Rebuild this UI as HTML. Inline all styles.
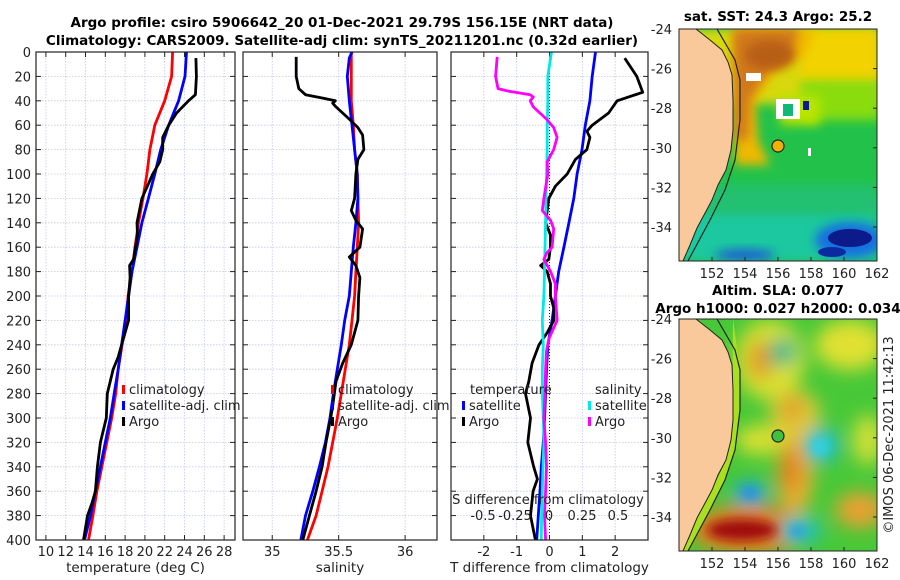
<!DOCTYPE html>
<html><head><meta charset="utf-8"><style>
html,body{margin:0;padding:0;background:#fff;}
svg{display:block;font-family:"DejaVu Sans","Liberation Sans",sans-serif;}
</style></head><body>
<svg id="fig" width="900" height="580" viewBox="0 0 900 580" xmlns="http://www.w3.org/2000/svg">
<defs>
<clipPath id="m1c"><rect x="679" y="29" width="198" height="232"/></clipPath>
<clipPath id="m2c"><rect x="679" y="319" width="198" height="232"/></clipPath>
<filter id="bl" x="-50%" y="-50%" width="200%" height="200%"><feGaussianBlur stdDeviation="9"/></filter>
<filter id="bl2" x="-50%" y="-50%" width="200%" height="200%"><feGaussianBlur stdDeviation="5"/></filter>
</defs>
<text x="342" y="27" font-size="13.5" font-weight="bold" text-anchor="middle">Argo profile: csiro 5906642_20 01-Dec-2021 29.79S 156.15E (NRT data)</text>
<text x="342" y="45" font-size="13.5" font-weight="bold" text-anchor="middle">Climatology: CARS2009. Satellite-adj clim: synTS_20211201.nc (0.32d earlier)</text>
<g id="p1"></g>
<g id="p2"></g>
<g id="p3"></g>

<!-- SST map -->
<g>
<text x="778" y="21" font-size="13.5" font-weight="bold" text-anchor="middle">sat. SST: 24.3 Argo: 25.2</text>
<g clip-path="url(#m1c)">
<rect x="679" y="29" width="198" height="232" fill="#22c24a"/>
<rect x="679" y="29" width="198" height="75" fill="#d8d810" filter="url(#bl2)"/>
<rect x="800" y="29" width="80" height="55" fill="#f2d200" filter="url(#bl2)"/>
<rect x="800" y="80" width="80" height="40" fill="#8adc10" filter="url(#bl2)"/>
<rect x="780" y="95" width="40" height="30" fill="#b8e400" filter="url(#bl2)"/>
<path d="M730,29 L815,29 L805,55 L775,72 L755,100 L758,140 L770,165 L735,165 L733,29 Z" fill="#f0b800" filter="url(#bl2)"/>
<path d="M733,29 L800,29 L790,55 L768,72 L750,100 L748,140 L735,140 Z" fill="#d0781c" filter="url(#bl2)"/>
<ellipse cx="770" cy="55" rx="25" ry="15" fill="#b85e12" filter="url(#bl2)"/>
<rect x="679" y="200" width="198" height="61" fill="#1ec8a0" filter="url(#bl2)"/>
<rect x="679" y="185" width="198" height="30" fill="#20c070" filter="url(#bl2)"/>
<ellipse cx="850" cy="240" rx="35" ry="18" fill="#1870e0" filter="url(#bl2)"/>
<ellipse cx="850" cy="238" rx="22" ry="9" fill="#0c1a8a"/>
<ellipse cx="832" cy="252" rx="14" ry="5" fill="#0c2aa0"/>
<ellipse cx="745" cy="255" rx="30" ry="6" fill="#1a60d0" filter="url(#bl2)"/>
<rect x="776" y="99" width="24" height="20" fill="#ffffff"/>
<rect x="783" y="104" width="10" height="12" fill="#10b878"/>
<rect x="803" y="101" width="6" height="9" fill="#0c1a8a"/>
<rect x="808" y="148" width="3" height="8" fill="#ffffff"/>
<rect x="746" y="73" width="15" height="8" fill="#ffffff"/>
<path id="land1" d="M679,29 L696,29 L710,40 L722,50 L728,62 L732,75 L733,100 L733,130 L731,150 L726,170 L718,185 L712,200 L704,215 L697,228 L690,245 L683,261 L679,261 Z" fill="#fac99b" stroke="#222" stroke-width="1"/>
<path d="M717,29 L735,60 L740,80 L740,120 L735,160 L725,190 L710,220 L688,261" fill="none" stroke="#222" stroke-width="1.2"/>
</g>
<rect x="679" y="29" width="198" height="232" fill="none" stroke="#222" stroke-width="1"/>
<circle cx="778" cy="146" r="6" fill="#f0b000" stroke="#222" stroke-width="1.2"/>
<g id="m1ax"></g>
</g>

<!-- SLA map -->
<g>
<text x="778" y="295" font-size="13.5" font-weight="bold" text-anchor="middle">Altim. SLA: 0.077</text>
<text x="778" y="313" font-size="13.5" font-weight="bold" text-anchor="middle">Argo h1000: 0.027 h2000: 0.034</text>
<g clip-path="url(#m2c)">
<rect x="679" y="319" width="198" height="232" fill="#48c838"/>
<g filter="url(#bl)">
<ellipse cx="850" cy="345" rx="35" ry="25" fill="#e0e030"/>
<ellipse cx="770" cy="360" rx="35" ry="40" fill="#d8e030"/>
<ellipse cx="760" cy="360" rx="12" ry="20" fill="#e09a28"/>
<ellipse cx="795" cy="415" rx="25" ry="25" fill="#e0c838"/>
<ellipse cx="792" cy="408" rx="10" ry="12" fill="#e09a28"/>
<ellipse cx="760" cy="440" rx="25" ry="15" fill="#d8e030"/>
<ellipse cx="795" cy="475" rx="18" ry="40" fill="#e8b030"/>
<ellipse cx="790" cy="470" rx="10" ry="22" fill="#e08020"/>
<ellipse cx="750" cy="530" rx="60" ry="25" fill="#e08020"/>
<ellipse cx="860" cy="510" rx="25" ry="18" fill="#e8a030"/>
<ellipse cx="868" cy="440" rx="15" ry="25" fill="#d0e038"/>
<ellipse cx="783" cy="352" rx="14" ry="14" fill="#20b890"/>
<ellipse cx="822" cy="445" rx="18" ry="18" fill="#20c0c0"/>
<ellipse cx="750" cy="493" rx="18" ry="12" fill="#20a8d0"/>
<ellipse cx="800" cy="530" rx="22" ry="14" fill="#20c0c0"/>
</g>
<ellipse cx="820" cy="447" rx="10" ry="9" fill="#30d0e0" filter="url(#bl2)"/>
<ellipse cx="750" cy="493" rx="9" ry="6" fill="#2090e0" filter="url(#bl2)"/>
<ellipse cx="797" cy="531" rx="8" ry="6" fill="#2aa0e0" filter="url(#bl2)"/>
<ellipse cx="742" cy="530" rx="35" ry="11" fill="#a01010" filter="url(#bl2)"/>
<g transform="translate(0,290)">
<path d="M733,29 L740,80 L740,120 L735,160 L725,190 L710,220 L688,261 L683,261 L697,228 L712,200 L726,170 L733,130 Z" fill="#a8e020"/>
<path d="M679,29 L696,29 L710,40 L722,50 L728,62 L732,75 L733,100 L733,130 L731,150 L726,170 L718,185 L712,200 L704,215 L697,228 L690,245 L683,261 L679,261 Z" fill="#fac99b" stroke="#222" stroke-width="1"/>
<path d="M717,29 L735,60 L740,80 L740,120 L735,160 L725,190 L710,220 L688,261" fill="none" stroke="#222" stroke-width="1.2"/>
</g>
</g>
<rect x="679" y="319" width="198" height="232" fill="none" stroke="#222" stroke-width="1"/>
<circle cx="778" cy="436" r="6" fill="#40c040" stroke="#222" stroke-width="1.2"/>
<g id="m2ax"></g>
</g>
<text transform="translate(893,435) rotate(-90)" font-size="13" text-anchor="middle" fill="#222">©IMOS 06-Dec-2021 11:42:13</text>
</svg>
<script>
// ---------- data ----------
const depthTicks = [0,20,40,60,80,100,120,140,160,180,200,220,240,260,280,300,320,340,360,380,400];
const tempTicks = [10,12,14,16,18,20,22,24,26,28];
const salTicks = [35,35.5,36];
const tdiffTicks = [-2,-1,0,1,2];
const sdiffTickLabels = ["-0.5","-0.25","0","0.25","0.5"];
const sdiffTickVals = [-0.5,-0.25,0,0.25,0.5];

const tClimDepth = [0,20,40,60,80,100,120,140,160,180,200,220,240,260,280,300,320,340,360,380,400];
const tClimVals = [22.8,22.7,22.0,21.0,20.5,20.2,19.8,19.35,19.0,18.7,18.3,18.1,17.7,17.3,17.05,16.65,16.15,15.65,15.15,14.75,14.3];
const tSatVals = [24.2,24.05,23.4,22.4,21.6,21.0,20.35,19.7,19.2,18.7,18.35,18.0,17.65,17.3,16.9,16.5,16.0,15.5,15.0,14.5,13.9];
const tArgoDepth = [5,20,35,40,50,60,70,80,90,100,120,140,150,170,175,185,200,220,240,250,260,280,300,320,340,360,370,380,400];
const tArgoVals = [25.15,25.2,25.1,24.4,23.2,22.4,21.8,21.8,21.5,20.8,19.7,19.2,19.25,18.85,18.45,18.5,18.35,18.35,17.65,17.3,16.8,16.2,16.1,15.5,15.2,15.0,14.65,14.2,13.8];

const sClimVals = [35.595,35.595,35.595,35.61,35.62,35.64,35.645,35.65,35.64,35.63,35.62,35.60,35.58,35.55,35.52,35.49,35.455,35.42,35.375,35.33,35.265];
const sSatDepth = [0,5,20,40,60,80,100,120,140,160,180,200,220,240,260,280,300,320,340,360,380,400];
const sSatVals = [35.60,35.58,35.565,35.58,35.60,35.62,35.64,35.645,35.63,35.61,35.595,35.58,35.545,35.52,35.49,35.46,35.435,35.40,35.355,35.305,35.25,35.215];
const sArgoDepth = [4,20,30,35,38,40,42,45,55,62,68,80,88,100,120,130,138,145,160,168,175,185,200,220,240,255,270,290,300,320,340,360,380,400];
const sArgoVals = [35.18,35.18,35.20,35.25,35.39,35.475,35.455,35.48,35.58,35.645,35.68,35.69,35.645,35.63,35.62,35.595,35.63,35.68,35.66,35.58,35.63,35.66,35.65,35.645,35.595,35.53,35.48,35.455,35.44,35.405,35.375,35.33,35.28,35.23];

const dTSatVals = [1.40,1.30,1.23,1.09,0.99,0.84,0.74,0.59,0.44,0.28,0.18,0.08,-0.05,-0.09,-0.12,-0.15,-0.19,-0.25,-0.29,-0.34,-0.39];
const dTArgoDepth = [5,20,33,40,50,60,65,70,80,88,100,110,120,140,150,160,170,175,180,190,200,210,220,230,240,255,270,280,300,320,340,350,360,380,400];
const dTArgoVals = [2.29,2.66,2.84,2.06,1.80,1.30,1.14,1.23,1.14,0.79,0.54,0.18,-0.02,-0.12,0.03,0.03,-0.02,-0.27,-0.07,0.03,0.03,0.13,0.13,-0.07,-0.32,-0.53,-0.63,-0.73,-0.58,-0.66,-0.48,-0.37,-0.50,-0.58,-0.43];
const dSSatVals = [0.013,-0.011,-0.011,-0.015,-0.015,-0.02,-0.023,-0.026,-0.03,-0.033,-0.037,-0.048,-0.041,-0.048,-0.048,-0.041,-0.037,-0.043,-0.048,-0.052,-0.054];
const dSArgoDepth = [4,20,30,32,35,37,40,45,55,62,70,80,90,100,120,130,138,145,160,165,170,180,190,200,220,235,245,260,280,300,320,340,360,380,400];
const dSArgoVals = [-0.346,-0.357,-0.341,-0.276,-0.128,-0.107,-0.128,-0.107,-0.02,0.028,0.05,0.028,-0.015,-0.011,-0.037,-0.048,0.007,0.028,0.017,-0.02,-0.037,0.007,0.039,0.039,0.05,-0.004,-0.02,-0.026,-0.03,-0.037,-0.026,-0.02,-0.026,-0.033,-0.026];

const latTicks = [-24,-26,-28,-30,-32,-34];
const lonTicks = [152,154,156,158,160,162];

// ---------- helpers ----------
const NS = "http://www.w3.org/2000/svg";
function mk(tag, attrs, parent, txt){
  const e = document.createElementNS(NS, tag);
  for (const k in attrs) e.setAttribute(k, attrs[k]);
  if (txt !== undefined) e.textContent = txt;
  parent.appendChild(e);
  return e;
}
const TOP = 52, BOT = 540;
function yD(d){ return TOP + d/400*(BOT-TOP); }

function panel(g, x0, x1, xmin, xmax, gridVals, showY, tickLabels, xlabel){
  const sx = v => x0 + (v-xmin)/(xmax-xmin)*(x1-x0);
  depthTicks.forEach(d=>{
    const l = mk('line',{x1:x0,x2:x1,y1:yD(d),y2:yD(d),stroke:'#c3c8e6','stroke-width':0.8,'stroke-dasharray':'1.5,1.5'},g);
    
    
    const t1 = mk('line',{x1:x0,x2:x0+5,y1:yD(d),y2:yD(d),stroke:'#222','stroke-width':1},g);
    
    
    const t2 = mk('line',{x1:x1-5,x2:x1,y1:yD(d),y2:yD(d),stroke:'#222','stroke-width':1},g);
    
    
    if (showY){
      const tl = mk('text',{x:x0-5,y:yD(d)+5,'font-size':13,'text-anchor':'end',fill:'#222'},g,String(d));
      
      
    }
  });
  gridVals.forEach((v,i)=>{
    const l = mk('line',{x1:sx(v),x2:sx(v),y1:TOP,y2:BOT,stroke:'#c3c8e6','stroke-width':0.8,'stroke-dasharray':'1.5,1.5'},g);
    
    
    const tb = mk('line',{x1:sx(v),x2:sx(v),y1:BOT-5,y2:BOT,stroke:'#222','stroke-width':1},g);
    
    
    const tt = mk('line',{x1:sx(v),x2:sx(v),y1:TOP,y2:TOP+5,stroke:'#222','stroke-width':1},g);
    
    
    const lab = mk('text',{x:sx(v),y:BOT+16,'font-size':13,'text-anchor':'middle',fill:'#222'},g,tickLabels[i]);
    
    
  });
  const xl = mk('text',{x:(x0+x1)/2,y:BOT+32,'font-size':13.5,'text-anchor':'middle',fill:'#222'},g,xlabel);
  
  
  return sx;
}
function frame(g,x0,x1){
  const r = mk('rect',{x:x0,y:TOP,width:x1-x0,height:BOT-TOP,fill:'none',stroke:'#222','stroke-width':1.2},g);
  
  
}
function line(g, sx, depths, vals, color, name){
  const pts = depths.map((d,i)=>sx(vals[i]).toFixed(1)+','+yD(d).toFixed(1)).join(' ');
  const p = mk('polyline',{points:pts,fill:'none',stroke:color,'stroke-width':2.8,'stroke-linejoin':'round'},g);
  
  
}
function legend(g, x, y, color, label, name){
  const m = mk('rect',{x:x,y:y-9,width:3,height:9,fill:color},g);
  
  
  const t = mk('text',{x:x+7,y:y,'font-size':13,fill:'#222'},g,label);
  
  
}

// ---------- panel 1 ----------
const g1 = document.getElementById('p1');
const sx1 = panel(g1,36,235,9,29.1,tempTicks,true,tempTicks.map(String),'temperature (deg C)');
line(g1,sx1,tClimDepth,tClimVals,'#ff0000','temp-climatology-line');
line(g1,sx1,tClimDepth,tSatVals,'#0000ff','temp-satellite-line');
line(g1,sx1,tArgoDepth,tArgoVals,'#000000','temp-argo-line');
frame(g1,36,235);
legend(g1,122,394,'#ff0000','climatology','legend-entry-climatology');
legend(g1,122,410,'#0000ff','satellite-adj. clim','legend-entry-satellite');
legend(g1,122,426,'#000000','Argo','legend-entry-argo');

// ---------- panel 2 ----------
const g2 = document.getElementById('p2');
const sx2 = panel(g2,243,437,34.78,36.24,salTicks,false,['35','35.5','36'],'salinity');
line(g2,sx2,tClimDepth,sClimVals,'#ff0000','sal-climatology-line');
line(g2,sx2,sSatDepth,sSatVals,'#0000ff','sal-satellite-line');
line(g2,sx2,sArgoDepth,sArgoVals,'#000000','sal-argo-line');
frame(g2,243,437);
legend(g2,331,394,'#ff0000','climatology','legend-entry-climatology');
legend(g2,331,410,'#0000ff','satellite-adj. clim','legend-entry-satellite');
legend(g2,331,426,'#000000','Argo','legend-entry-argo');

// ---------- panel 3 ----------
const g3 = document.getElementById('p3');
const sx3 = panel(g3,451,648,-3,3,tdiffTicks,false,tdiffTicks.map(String),'T difference from climatology');
const sxS = v => sx3(v/0.2174);
const zl = mk('line',{x1:sx3(0),x2:sx3(0),y1:TOP,y2:BOT,stroke:'#222','stroke-width':1,'stroke-dasharray':'1,2'},g3);


line(g3,sx3,tClimDepth,dTSatVals,'#0000ff','tdiff-satellite-line');
line(g3,sx3,dTArgoDepth,dTArgoVals,'#000000','tdiff-argo-line');
line(g3,sxS,tClimDepth,dSSatVals,'#00e8e8','sdiff-satellite-line');
line(g3,sxS,dSArgoDepth,dSArgoVals,'#ff00ff','sdiff-argo-line');
frame(g3,451,648);
const lt = mk('text',{x:470,y:394,'font-size':13,fill:'#222'},g3,'temperature');


legend(g3,462,410,'#0000ff','satellite','legend-entry-t-satellite');
legend(g3,462,426,'#000000','Argo','legend-entry-t-argo');
const ls = mk('text',{x:595,y:394,'font-size':13,fill:'#222'},g3,'salinity');


legend(g3,588,410,'#00e8e8','satellite','legend-entry-s-satellite');
legend(g3,588,426,'#ff00ff','Argo','legend-entry-s-argo');
const st = mk('text',{x:548,y:504,'font-size':13,'text-anchor':'middle',fill:'#222'},g3,'S difference from climatology');


const sLabX = [483,515,549,582,618];
sdiffTickLabels.forEach((s,i)=>{
  const t = mk('text',{x:sLabX[i],y:520,'font-size':13,'text-anchor':'middle',fill:'#222'},g3,s);
  
  
});

// ---------- map axes ----------
function mapAxes(g, yTop){
  const lonX = v => 679 + (v-150)/12*198;
  const latY = v => yTop + (-24 - v)*19.8;
  latTicks.forEach(v=>{
    const t = mk('text',{x:672,y:latY(v)+5,'font-size':13,'text-anchor':'end',fill:'#222'},g,String(v));
    
    
    const tk = mk('line',{x1:873,x2:877,y1:latY(v),y2:latY(v),stroke:'#222'},g);
    
    
  });
  lonTicks.forEach(v=>{
    const t = mk('text',{x:lonX(v),y:yTop+249,'font-size':13,'text-anchor':'middle',fill:'#222'},g,String(v));
    
    
    const tk = mk('line',{x1:lonX(v),x2:lonX(v),y1:yTop+228,y2:yTop+232,stroke:'#222'},g);
    
    
  });
}
mapAxes(document.getElementById('m1ax'),29);
mapAxes(document.getElementById('m2ax'),319);
</script>
</body></html>
